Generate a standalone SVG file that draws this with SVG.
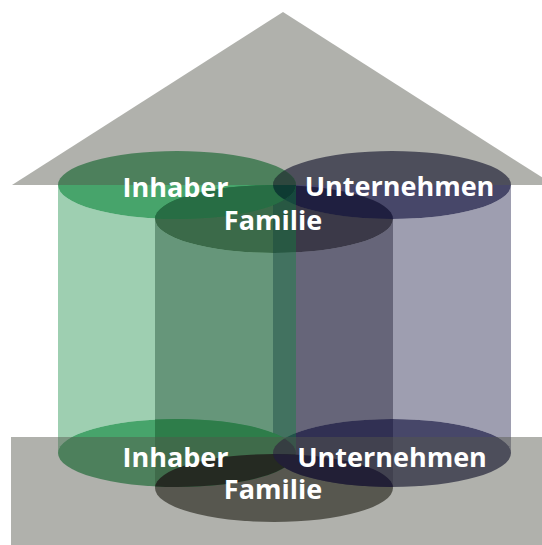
<svg xmlns="http://www.w3.org/2000/svg" width="542" height="545" viewBox="0 0 542 545">
<style>
.gb{fill:#0D873C;opacity:.4}
.ge{fill:#0D873C;opacity:.76}
.bb{fill:#0D0D3A;opacity:.4}
.be{fill:#0D0D3A;opacity:.76}
.fb{fill:#161219;opacity:.4}
.fe{fill:#5A5853}
.house{fill:#54564C;opacity:.463}
.lbl{font-family:"Open Sans","Noto Sans",sans-serif;font-weight:700;font-size:27px;fill:#fff;text-anchor:middle}
</style>
<defs>
<clipPath id="cFamB"><ellipse cx="274" cy="488" rx="119" ry="34"/></clipPath>
<clipPath id="cFamT"><ellipse cx="274" cy="219" rx="119" ry="34"/></clipPath>
<clipPath id="cBluT"><ellipse cx="392" cy="185" rx="119" ry="34"/></clipPath>
<clipPath id="cBluB"><ellipse cx="392" cy="453" rx="119" ry="34"/></clipPath>
<clipPath id="cFamBody"><rect x="155" y="219" width="238" height="269"/></clipPath>
</defs>
<g id="familie">
<path class="fb" d="M155,219 A119,34 0 0 0 393,219 L393,488 A119,34 0 0 0 155,488 Z"/>
<ellipse class="fe" cx="274" cy="219" rx="119" ry="34"/>
<ellipse class="fe" cx="274" cy="488" rx="119" ry="34"/>
</g>
<g id="unternehmen">
<path class="bb" d="M273,185 A119,34 0 0 0 511,185 L511,453 A119,34 0 0 0 273,453 Z"/>
<ellipse class="be" cx="392" cy="185" rx="119" ry="34"/>
<ellipse class="be" cx="392" cy="453" rx="119" ry="34"/>
</g>
<g id="inhaber">
<path class="gb" d="M58,185 A119,34 0 0 0 296,185 L296,453 A119,34 0 0 0 58,453 Z"/>
<ellipse class="ge" cx="177" cy="185" rx="119" ry="34"/>
<ellipse class="ge" cx="177" cy="453" rx="119" ry="34"/>
</g>
<g id="schnitt-oben">
<ellipse cx="177" cy="185" rx="119" ry="34" fill="#276D44" clip-path="url(#cFamT)"/>
<ellipse cx="177" cy="185" rx="119" ry="34" fill="#0E3B33" clip-path="url(#cBluT)"/>
<ellipse cx="177" cy="453" rx="119" ry="34" fill="#2E7D4A" clip-path="url(#cFamBody)"/>
<ellipse cx="177" cy="453" rx="119" ry="34" fill="#1C2A3A" clip-path="url(#cBluB)"/>
</g>
<g id="haus">
<polygon class="house" points="12,185 283,12 554,185"/>
<rect class="house" x="11" y="437" width="531" height="108"/>
</g>
<g id="schnitt-unten">
<ellipse cx="177" cy="453" rx="119" ry="34" fill="#252A22" clip-path="url(#cFamB)"/>
<ellipse cx="392" cy="453" rx="119" ry="34" fill="#221F36" clip-path="url(#cFamB)"/>
</g>
<g id="labels">
<text class="lbl" x="175.5" y="197">Inhaber</text>
<text class="lbl" x="399.5" y="196">Unternehmen</text>
<text class="lbl" x="273" y="230">Familie</text>
<text class="lbl" x="175.5" y="467">Inhaber</text>
<text class="lbl" x="392" y="467">Unternehmen</text>
<text class="lbl" x="273" y="499">Familie</text>
</g>
</svg>
